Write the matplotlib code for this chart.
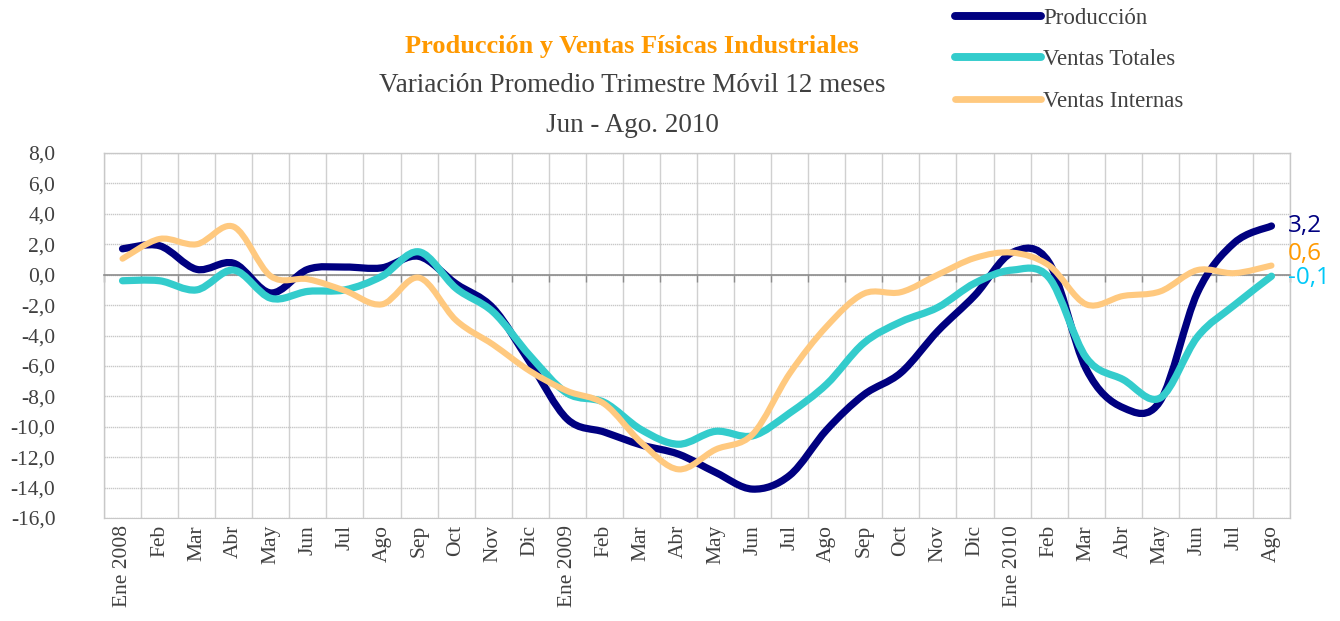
import matplotlib
matplotlib.use("Agg")
import matplotlib.pyplot as plt
from matplotlib.path import Path
from matplotlib.patches import PathPatch
from matplotlib.lines import Line2D
from matplotlib.ticker import FixedLocator, FuncFormatter
import numpy as np

months = ["Ene 2008", "Feb", "Mar", "Abr", "May", "Jun", "Jul", "Ago", "Sep", "Oct", "Nov", "Dic",
          "Ene 2009", "Feb", "Mar", "Abr", "May", "Jun", "Jul", "Ago", "Sep", "Oct", "Nov", "Dic",
          "Ene 2010", "Feb", "Mar", "Abr", "May", "Jun", "Jul", "Ago"]

produccion = [1.7, 1.9, 0.35, 0.75, -1.2, 0.35, 0.5, 0.45, 1.2, -0.6, -2.2, -5.8,
              -9.5, -10.35, -11.2, -11.8, -13.0, -14.1, -13.2, -10.2, -7.9, -6.45, -3.7, -1.35,
              1.45, 0.8, -6.2, -8.75, -8.3, -1.2, 2.1, 3.2]
ventas_totales = [-0.4, -0.4, -1.0, 0.3, -1.55, -1.1, -1.0, -0.1, 1.5, -0.9, -2.45, -5.35,
                  -7.8, -8.4, -10.2, -11.15, -10.3, -10.6, -9.1, -7.2, -4.5, -3.1, -2.15, -0.55,
                  0.3, -0.2, -5.45, -6.9, -8.1, -4.1, -2.0, -0.1]
ventas_internas = [1.05, 2.35, 2.0, 3.15, -0.1, -0.3, -1.05, -1.95, -0.2, -3.0, -4.6, -6.35,
                   -7.65, -8.5, -11.05, -12.8, -11.5, -10.5, -6.5, -3.4, -1.25, -1.15, 0.0, 1.1,
                   1.45, 0.6, -1.95, -1.4, -1.1, 0.3, 0.1, 0.6]

series_names = ["Producción", "Ventas Totales", "Ventas Internas"]
series_colors = ["#000080", "#33CCCC", "#FFC97F"]
series_widths = [5.2, 5.2, 4.4]
label_colors = ["#000080", "#00C8F8", "#FF9900"]

title = "Producción y Ventas Físicas Industriales"
subtitle1 = "Variación Promedio Trimestre Móvil 12 meses"
subtitle2 = "Jun - Ago. 2010"

SERIF = ["Liberation Serif", "DejaVu Serif"]

W, H = 1340, 621
fig = plt.figure(figsize=(W / 100, H / 100), dpi=100)
ax = fig.add_axes([104 / W, 1 - 518 / H, 1186 / W, 365 / H])

x = np.arange(len(months))


def smooth_path(xs, ys):
    pts = list(zip(xs, ys))
    verts = [pts[0]]
    codes = [Path.MOVETO]
    n = len(pts)
    for i in range(n - 1):
        p0 = pts[i - 1] if i > 0 else pts[i]
        p1 = pts[i]
        p2 = pts[i + 1]
        p3 = pts[i + 2] if i + 2 < n else pts[i + 1]
        c1 = (p1[0] + (p2[0] - p0[0]) / 6, p1[1] + (p2[1] - p0[1]) / 6)
        c2 = (p2[0] - (p3[0] - p1[0]) / 6, p2[1] - (p3[1] - p1[1]) / 6)
        verts += [c1, c2, p2]
        codes += [Path.CURVE4] * 3
    return Path(verts, codes)


all_series = [produccion, ventas_totales, ventas_internas]

order = [2, 0, 1]
for k in order:
    patch = PathPatch(smooth_path(x, all_series[k]), fill=False, edgecolor=series_colors[k],
                      lw=series_widths[k], capstyle="round", joinstyle="round",
                      transform=ax.transData, zorder=3 + k * 0.1)
    ax.add_patch(patch)

ax.set_xlim(-0.5, len(months) - 0.5)
ax.set_ylim(-16, 8)

# y axis
ax.yaxis.set_major_locator(FixedLocator(np.arange(-16, 9, 2)))
ax.yaxis.set_major_formatter(FuncFormatter(lambda v, p: f"{v:.1f}".replace(".", ",")))
ax.tick_params(axis="y", length=0, pad=35, labelsize=15.5, labelcolor="#404040")
for lab in ax.get_yticklabels():
    lab.set_fontfamily(SERIF)
ax.grid(axis="y", which="major", color="#C8C8C8", lw=1.0, ls=(0, (1, 0.5)))

# x axis: spine at zero with minor ticks at category boundaries
ax.spines["bottom"].set_position(("data", 0))
ax.spines["bottom"].set_color("#8C8C8C")
ax.spines["bottom"].set_linewidth(1.2)
ax.xaxis.set_minor_locator(FixedLocator(np.arange(-0.5, len(months), 1)))
ax.xaxis.set_major_locator(FixedLocator([]))
ax.tick_params(axis="x", which="minor", length=5, direction="out", color="#8C8C8C", width=1)
ax.grid(axis="x", which="minor", color="#D0D0D0", lw=1.0)
for side in ["left", "top", "right"]:
    ax.spines[side].set_color("#C8C8C8")
    ax.spines[side].set_linewidth(1.0)

sec = ax.secondary_xaxis(0.0)
sec.set_xticks(x)
sec.set_xticklabels(months, rotation=90, fontsize=15.5, color="#404040", family=SERIF)
sec.tick_params(axis="x", length=0, pad=5)
sec.spines["bottom"].set_color("#C8C8C8")

ax.set_axisbelow(True)

# end labels
offsets = [(12, 0), (12, -1), (12, 8)]
for k in range(3):
    val = all_series[k][-1]
    txt = f"{val:.1f}".replace(".", ",")
    ax.annotate(txt, xy=(x[-1], val), xytext=offsets[k], textcoords="offset points",
                ha="left", va="center", fontsize=17.5, color=label_colors[k],
                family=["Open Sans", "DejaVu Sans"], annotation_clip=False)

# titles
fig.text(632 / W, 1 - 46 / H, title, ha="center", va="center", fontsize=19, fontweight="bold",
         color="#FF9900", family=SERIF)
fig.text(632 / W, 1 - 85 / H, subtitle1, ha="center", va="center", fontsize=19.5,
         color="#404040", family=SERIF)
fig.text(632 / W, 1 - 125 / H, subtitle2, ha="center", va="center", fontsize=19.5,
         color="#404040", family=SERIF)

# legend
handles = [Line2D([0], [0], color=series_colors[k], lw=series_widths[k] + 0.5,
                  solid_capstyle="round") for k in range(3)]
leg = fig.legend(handles, series_names, loc="upper left", bbox_to_anchor=(955 / W, 1 - 8 / H),
                 frameon=False, borderpad=0, borderaxespad=0, handlelength=3.75,
                 handletextpad=0.1, labelspacing=0.89,
                 prop={"family": SERIF, "size": 16.5})
for t in leg.get_texts():
    t.set_color("#404040")

fig.savefig("out.png", dpi=100)
